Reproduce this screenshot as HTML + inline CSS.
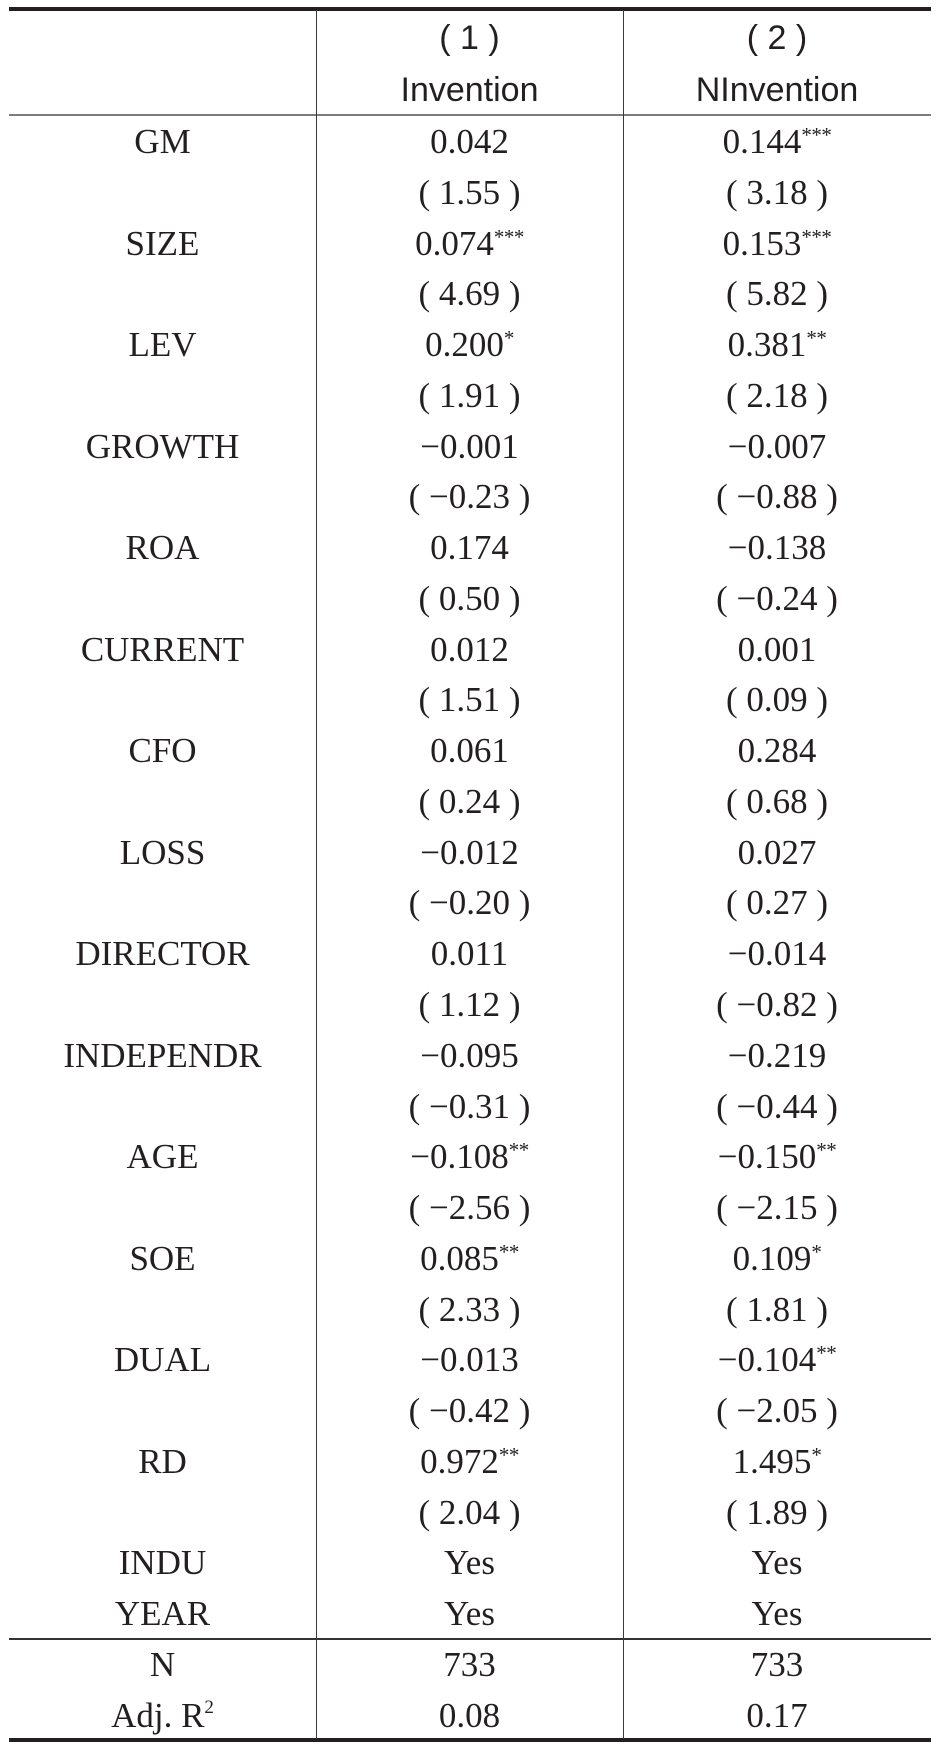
<!DOCTYPE html>
<html>
<head>
<meta charset="utf-8">
<style>
  html, body { margin:0; padding:0; background:#fff; }
  body { width:937px; height:1747px; position:relative; overflow:hidden; color:#231f20; }
  .hl { position:absolute; left:9px; width:922px; background:#231f20; }
  .vl { position:absolute; width:1.5px; background:#3a3a3a; top:10px; height:1729px; }
  .hdr { position:absolute; font-family:"Liberation Sans", Arial, sans-serif; font-size:34px; line-height:52px; text-align:center; white-space:pre; }
  #body { position:absolute; left:0; top:117px; width:937px; font-family:"Liberation Serif", "Times New Roman", serif; font-size:35px; }
  .r { height:50.78px; line-height:50.78px; position:relative; white-space:pre; }
  .r span.c { position:absolute; top:0; text-align:center; }
  .c0 { left:9px; width:307px; }
  .c1 { left:316px; width:307px; }
  .c2 { left:623px; width:308px; }
  .s { font-size:21px; position:relative; top:-11px; letter-spacing:-0.5px; }
  .sup2 { font-size:19px; position:relative; top:-14px; }
</style>
</head>
<body>
  <div class="hl" style="top:7px;height:3.5px;"></div>
  <div class="hl" style="top:114px;height:2px;background:#7d7d7d;"></div>
  <div class="hl" style="top:1638px;height:1.8px;background:#333;"></div>
  <div class="hl" style="top:1738px;height:4px;"></div>
  <div class="vl" style="left:315.5px;"></div>
  <div class="vl" style="left:622.5px;"></div>

  <div class="hdr" style="left:316px;width:307px;top:11.5px;">( 1 )</div>
  <div class="hdr" style="left:623px;width:308px;top:11.5px;">( 2 )</div>
  <div class="hdr" style="left:316px;width:307px;top:64px;">Invention</div>
  <div class="hdr" style="left:623px;width:308px;top:64px;">NInvention</div>

  <div id="body">
    <div class="r"><span class="c c0">GM</span><span class="c c1">0.042</span><span class="c c2">0.144<span class="s">***</span></span></div>
    <div class="r"><span class="c c0"></span><span class="c c1">( 1.55 )</span><span class="c c2">( 3.18 )</span></div>
    <div class="r"><span class="c c0">SIZE</span><span class="c c1">0.074<span class="s">***</span></span><span class="c c2">0.153<span class="s">***</span></span></div>
    <div class="r"><span class="c c0"></span><span class="c c1">( 4.69 )</span><span class="c c2">( 5.82 )</span></div>
    <div class="r"><span class="c c0">LEV</span><span class="c c1">0.200<span class="s">*</span></span><span class="c c2">0.381<span class="s">**</span></span></div>
    <div class="r"><span class="c c0"></span><span class="c c1">( 1.91 )</span><span class="c c2">( 2.18 )</span></div>
    <div class="r"><span class="c c0">GROWTH</span><span class="c c1">−0.001</span><span class="c c2">−0.007</span></div>
    <div class="r"><span class="c c0"></span><span class="c c1">( −0.23 )</span><span class="c c2">( −0.88 )</span></div>
    <div class="r"><span class="c c0">ROA</span><span class="c c1">0.174</span><span class="c c2">−0.138</span></div>
    <div class="r"><span class="c c0"></span><span class="c c1">( 0.50 )</span><span class="c c2">( −0.24 )</span></div>
    <div class="r"><span class="c c0">CURRENT</span><span class="c c1">0.012</span><span class="c c2">0.001</span></div>
    <div class="r"><span class="c c0"></span><span class="c c1">( 1.51 )</span><span class="c c2">( 0.09 )</span></div>
    <div class="r"><span class="c c0">CFO</span><span class="c c1">0.061</span><span class="c c2">0.284</span></div>
    <div class="r"><span class="c c0"></span><span class="c c1">( 0.24 )</span><span class="c c2">( 0.68 )</span></div>
    <div class="r"><span class="c c0">LOSS</span><span class="c c1">−0.012</span><span class="c c2">0.027</span></div>
    <div class="r"><span class="c c0"></span><span class="c c1">( −0.20 )</span><span class="c c2">( 0.27 )</span></div>
    <div class="r"><span class="c c0">DIRECTOR</span><span class="c c1">0.011</span><span class="c c2">−0.014</span></div>
    <div class="r"><span class="c c0"></span><span class="c c1">( 1.12 )</span><span class="c c2">( −0.82 )</span></div>
    <div class="r"><span class="c c0">INDEPENDR</span><span class="c c1">−0.095</span><span class="c c2">−0.219</span></div>
    <div class="r"><span class="c c0"></span><span class="c c1">( −0.31 )</span><span class="c c2">( −0.44 )</span></div>
    <div class="r"><span class="c c0">AGE</span><span class="c c1">−0.108<span class="s">**</span></span><span class="c c2">−0.150<span class="s">**</span></span></div>
    <div class="r"><span class="c c0"></span><span class="c c1">( −2.56 )</span><span class="c c2">( −2.15 )</span></div>
    <div class="r"><span class="c c0">SOE</span><span class="c c1">0.085<span class="s">**</span></span><span class="c c2">0.109<span class="s">*</span></span></div>
    <div class="r"><span class="c c0"></span><span class="c c1">( 2.33 )</span><span class="c c2">( 1.81 )</span></div>
    <div class="r"><span class="c c0">DUAL</span><span class="c c1">−0.013</span><span class="c c2">−0.104<span class="s">**</span></span></div>
    <div class="r"><span class="c c0"></span><span class="c c1">( −0.42 )</span><span class="c c2">( −2.05 )</span></div>
    <div class="r"><span class="c c0">RD</span><span class="c c1">0.972<span class="s">**</span></span><span class="c c2">1.495<span class="s">*</span></span></div>
    <div class="r"><span class="c c0"></span><span class="c c1">( 2.04 )</span><span class="c c2">( 1.89 )</span></div>
    <div class="r"><span class="c c0">INDU</span><span class="c c1">Yes</span><span class="c c2">Yes</span></div>
    <div class="r"><span class="c c0">YEAR</span><span class="c c1">Yes</span><span class="c c2">Yes</span></div>
    <div class="r"><span class="c c0">N</span><span class="c c1">733</span><span class="c c2">733</span></div>
    <div class="r"><span class="c c0">Adj. R<span class="sup2">2</span></span><span class="c c1">0.08</span><span class="c c2">0.17</span></div>
  </div>
</body>
</html>
